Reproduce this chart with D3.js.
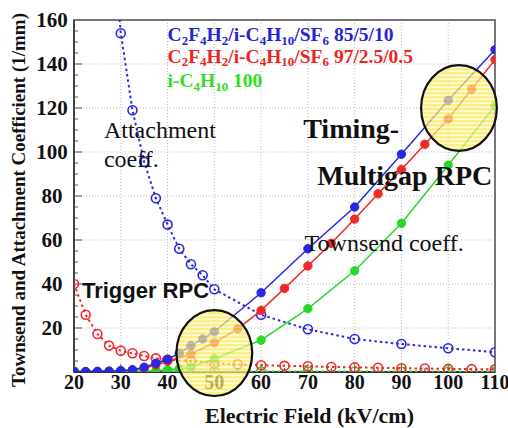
<!DOCTYPE html>
<html>
<head>
<meta charset="utf-8">
<script src="https://cdn.jsdelivr.net/npm/d3@7"></script>
<style>
  body { margin: 0; background: #fff; }
  svg { display: block; }
</style>
</head>
<body>
<script>
// Townsend coefficient (filled markers, solid line)
const blueTx = [20, 22.5, 25, 27.5, 30, 32.5, 35, 37.5, 40, 42.5, 45, 47.5, 50, 60, 70, 80, 90, 100, 110];
const blueTy = [0.2, 0.2, 0.3, 0.4, 0.6, 1.0, 2.2, 4.0, 5.8, 8.5, 12, 15, 18.3, 36, 56, 75, 99, 123.5, 146.5];

const redTx = [20, 22.5, 25, 27.5, 30, 32.5, 35, 37.5, 40, 45, 50, 55, 60, 65, 70, 75, 80, 85, 90, 95, 100, 105, 110];
const redTy = [0.1, 0.1, 0.2, 0.3, 0.5, 0.9, 1.7, 3.2, 4.9, 8.2, 13.3, 19.6, 28, 38, 48.2, 58.5, 69.5, 81, 92, 103.5, 115, 128.5, 142];

const greenTx = [20, 22.5, 25, 27.5, 30, 32.5, 35, 37.5, 40, 42.5, 45, 50, 60, 70, 80, 90, 100, 110];
const greenTy = [0.2, 0.2, 0.2, 0.2, 0.2, 0.3, 0.4, 0.6, 1.0, 1.5, 2.3, 6, 14.5, 28.8, 46, 67.6, 94, 121];

// Attachment coefficient (open markers, dotted line)
const blueAx = [27.5, 30, 32.5, 35, 37.5, 40, 42.5, 45, 47.5, 50, 60, 70, 80, 90, 100, 110];
const blueAy = [215, 154, 119, 95.5, 79, 67, 56, 49, 44, 37.6, 26, 19.4, 15, 12.7, 10.8, 9];

const redAx = [20, 22.5, 25, 27.5, 30, 32.5, 35, 37.5, 40, 45, 50, 55, 60, 65, 70, 75, 80, 85, 90, 95, 100, 105, 110];
const redAy = [40, 26, 17.3, 12, 9.7, 8.5, 7.3, 6.2, 5.6, 5.1, 3.9, 3.5, 3.1, 2.8, 2.6, 2.3, 2.1, 1.9, 1.7, 1.6, 1.4, 1.3, 1.2];

const greenAx = [20, 30, 40, 50, 60, 70, 80, 90, 100, 110];
const greenAy = [0.2, 0.2, 0.2, 0.2, 0.2, 0.2, 0.2, 0.2, 0.2, 0.2];

const xTicks = [20, 30, 40, 50, 60, 70, 80, 90, 100, 110];
const yTicks = [20, 40, 60, 80, 100, 120, 140, 160];

// highlighted regions (data coords: centre x, centre y, half width, half height)
const regions = [[50, 8.6, 8.1, 19.5], [102.3, 120, 8.1, 19.5]];

const width = 508, height = 428;
const margin = {top: 20, right: 13, bottom: 56, left: 74};

const svg = d3.select('body').append('svg')
    .attr('width', width)
    .attr('height', height);

const x = d3.scaleLinear().domain([20, 110]).range([margin.left, width - margin.right]);
const y = d3.scaleLinear().domain([0, 160]).range([height - margin.bottom, margin.top]);

const defs = svg.append('defs');
defs.append('clipPath').attr('id', 'plot')
  .append('rect')
    .attr('x', x(20)).attr('y', y(160))
    .attr('width', x(110) - x(20)).attr('height', y(0) - y(160));

const stripes = defs.append('pattern')
    .attr('id', 'stripes')
    .attr('patternUnits', 'userSpaceOnUse')
    .attr('width', 10).attr('height', 4);
stripes.append('rect').attr('width', 10).attr('height', 4).attr('fill', '#fff8c0');
stripes.append('rect').attr('width', 10).attr('height', 2.5).attr('fill', '#f8ea5a');

// grid
svg.append('g').selectAll('line').data(xTicks.slice(1, -1)).join('line')
    .attr('x1', d => x(d)).attr('x2', d => x(d))
    .attr('y1', y(0)).attr('y2', y(160))
    .attr('stroke', '#bbb').attr('stroke-dasharray', '1,2');
svg.append('g').selectAll('line').data(yTicks.slice(0, -1)).join('line')
    .attr('x1', x(20)).attr('x2', x(110))
    .attr('y1', d => y(d)).attr('y2', d => y(d))
    .attr('stroke', '#bbb').attr('stroke-dasharray', '1,2');

// frame
svg.append('rect')
    .attr('x', x(20)).attr('y', y(160))
    .attr('width', x(110) - x(20)).attr('height', y(0) - y(160))
    .attr('fill', 'none').attr('stroke', '#777').attr('stroke-width', 2);

// ticks (inward)
svg.append('g').selectAll('line').data(d3.range(5, 160, 5)).join('line')
    .attr('x1', x(20)).attr('x2', d => x(20) + (d % 20 === 0 ? 8 : 4))
    .attr('y1', d => y(d)).attr('y2', d => y(d))
    .attr('stroke', '#555');
svg.append('g').selectAll('line').data(d3.range(25, 110, 5)).join('line')
    .attr('x1', d => x(d)).attr('x2', d => x(d))
    .attr('y1', y(0)).attr('y2', d => y(0) - (d % 10 === 0 ? 8 : 4))
    .attr('stroke', '#555');
svg.append('line')
    .attr('x1', x(20)).attr('x2', x(110)).attr('y1', y(0)).attr('y2', y(0))
    .attr('stroke', '#333').attr('stroke-width', 2);
svg.append('line')
    .attr('x1', x(20)).attr('x2', x(20)).attr('y1', y(0)).attr('y2', y(160))
    .attr('stroke', '#444').attr('stroke-width', 2);

// tick labels
svg.append('g').selectAll('text').data(yTicks).join('text')
    .attr('x', margin.left - 22).attr('y', d => y(d) + 7)
    .attr('text-anchor', 'middle')
    .attr('font-family', 'Liberation Serif, serif').attr('font-weight', 'bold')
    .attr('font-size', 21).attr('fill', '#111')
    .text(d => d);
svg.append('g').selectAll('text').data(xTicks).join('text')
    .attr('x', d => x(d)).attr('y', y(0) + 17)
    .attr('text-anchor', 'middle')
    .attr('font-family', 'Liberation Serif, serif').attr('font-weight', 'bold')
    .attr('font-size', 20).attr('fill', '#111')
    .text(d => d);

// axis titles
svg.append('text')
    .attr('x', (x(20) + x(110)) / 2 + 25).attr('y', height - 5)
    .attr('text-anchor', 'middle')
    .attr('font-family', 'Liberation Serif, serif').attr('font-weight', 'bold')
    .attr('font-size', 22).attr('fill', '#111')
    .text('Electric Field (kV/cm)');
svg.append('text')
    .attr('transform', 'translate(25,200) rotate(-90)')
    .attr('text-anchor', 'middle')
    .attr('font-family', 'Liberation Serif, serif').attr('font-weight', 'bold')
    .attr('font-size', 19).attr('fill', '#111')
    .text('Townsend and Attachment Coefficient (1/mm)');

const plot = svg.append('g').attr('clip-path', 'url(#plot)');

const line = d3.line().x(d => x(d[0])).y(d => y(d[1]));

function serie(xs, ys, color, attach) {
  const pts = d3.zip(xs, ys);
  plot.append('path')
      .datum(pts)
      .attr('d', line)
      .attr('fill', 'none')
      .attr('stroke', color)
      .attr('stroke-width', attach ? 2 : 1.5)
      .attr('stroke-dasharray', attach ? '2.5,3' : null);
  plot.append('g').selectAll('circle').data(pts).join('circle')
      .attr('cx', d => x(d[0])).attr('cy', d => y(d[1]))
      .attr('r', attach ? 4.5 : 4.2)
      .attr('fill', attach ? 'none' : color)
      .attr('stroke', color)
      .attr('stroke-width', attach ? 1.6 : 1);
}

serie(greenAx, greenAy, '#2ad62a', true);
serie(redAx, redAy, '#f02828', true);
serie(blueAx, blueAy, '#2828e0', true);
serie(greenTx, greenTy, '#2ad62a', false);
serie(redTx, redTy, '#f02828', false);
serie(blueTx, blueTy, '#2828e0', false);

// highlight ellipses
svg.append('g').selectAll('ellipse').data(regions).join('ellipse')
    .attr('cx', d => x(d[0])).attr('cy', d => y(d[1]))
    .attr('rx', d => x(d[0] + d[2]) - x(d[0]))
    .attr('ry', d => y(0) - y(d[3]))
    .attr('fill', 'url(#stripes)').attr('fill-opacity', 0.7)
    .attr('stroke', '#111').attr('stroke-width', 2.2);

// legend
const legend = [
  {color: '#2424d0', parts: [['C', 0], ['2', 1], ['F', 0], ['4', 1], ['H', 0], ['2', 1], ['/i-C', 0], ['4', 1], ['H', 0], ['10', 1], ['/SF', 0], ['6', 1], [' 85/5/10', 0]]},
  {color: '#ec2424', parts: [['C', 0], ['2', 1], ['F', 0], ['4', 1], ['H', 0], ['2', 1], ['/i-C', 0], ['4', 1], ['H', 0], ['10', 1], ['/SF', 0], ['6', 1], [' 97/2.5/0.5', 0]]},
  {color: '#33dd22', parts: [['i-C', 0], ['4', 1], ['H', 0], ['10', 1], [' 100', 0]]}
];
const legendDy = [-1, 20.5, 45];
legend.forEach((l, i) => {
  const t = svg.append('text')
      .attr('x', x(40)).attr('y', y(150) + legendDy[i])
      .attr('font-family', 'Liberation Serif, serif').attr('font-weight', 'bold')
      .attr('font-size', 19.5).attr('fill', l.color);
  l.parts.forEach((p, j) => {
    const prevSub = j > 0 && l.parts[j - 1][1];
    t.append('tspan')
        .attr('dy', p[1] && !prevSub ? 3.5 : (!p[1] && prevSub ? -3.5 : 0))
        .attr('font-size', p[1] ? 13 : 19.5)
        .text(p[0]);
  });
});

// annotations
const ann = [
  {t: 'Attachment', x: 26.4, y: 106.5, size: 24, w: 'normal', f: 'Liberation Serif, serif'},
  {t: 'coeff.', x: 26.4, y: 93, size: 24, w: 'normal', f: 'Liberation Serif, serif'},
  {t: 'Timing-', x: 69, y: 106.5, size: 28, w: 'bold', f: 'Liberation Serif, serif'},
  {t: 'Multigap RPC', x: 72, y: 85, size: 28, w: 'bold', f: 'Liberation Serif, serif'},
  {t: 'Townsend coeff.', x: 69.3, y: 55, size: 24, w: 'normal', f: 'Liberation Serif, serif'},
  {t: 'Trigger RPC', x: 21.7, y: 33.6, size: 22, w: 'bold', f: 'Liberation Sans, Arial, sans-serif'}
];
svg.append('g').selectAll('text').data(ann).join('text')
    .attr('x', d => x(d.x)).attr('y', d => y(d.y))
    .attr('font-family', d => d.f).attr('font-weight', d => d.w)
    .attr('font-size', d => d.size).attr('fill', '#111')
    .text(d => d.t);
</script>
</body>
</html>
